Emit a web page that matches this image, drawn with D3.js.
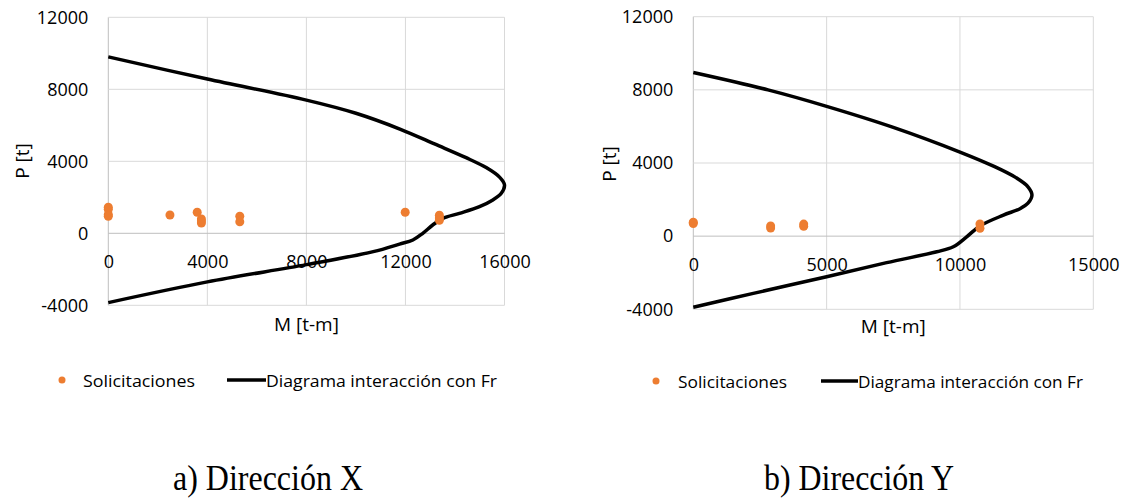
<!DOCTYPE html>
<html>
<head>
<meta charset="utf-8">
<script src="https://cdn.jsdelivr.net/npm/d3@7"></script>
<style>
  html, body { margin: 0; padding: 0; background: #ffffff; }
  svg { display: block; }
</style>
</head>
<body>
<svg id="chart" width="1125" height="500"></svg>
<script>
// ---- Data ----
const ticksY = [-4000, 0, 4000, 8000, 12000];
const ticksXA = [0, 4000, 8000, 12000, 16000];
const ticksXB = [0, 5000, 10000, 15000];

// a) Dirección X — solicitaciones
const solA_M = [0, 0, 0, 0, 2490, 3590, 3760, 3760, 3760, 5310, 5310, 11990, 13370, 13370, 13370];
const solA_P = [1450, 1330, 1050, 950, 1017, 1167, 800, 680, 570, 945, 640, 1167, 1000, 850, 720];
// a) Diagrama interacción con Fr
const diaA_M = [0, 4000, 8000, 10000, 11800, 13200, 14450, 15260, 15800, 16000, 15870, 15530, 14990, 14180, 13510, 13100, 12700, 12300, 11760, 10700, 8000, 4000, 0];
const diaA_P = [9800, 8570, 7400, 6670, 5780, 4950, 4200, 3650, 3120, 2690, 2220, 1850, 1480, 1110, 830, 460, 0, -370, -600, -1020, -1740, -2700, -3850];

// b) Dirección Y — solicitaciones
const solB_M = [0, 0, 2900, 2900, 4140, 4140, 10750, 10750];
const solB_P = [760, 690, 560, 440, 660, 540, 670, 430];
// b) Diagrama interacción con Fr
const diaB_M = [0, 2800, 5000, 7500, 10000, 11300, 12100, 12550, 12700, 12550, 12250, 11630, 10750, 10250, 9750, 9130, 7250, 5000, 2250, 0];
const diaB_P = [8950, 8000, 7100, 5950, 4600, 3800, 3200, 2700, 2250, 1800, 1500, 1150, 560, -40, -580, -855, -1450, -2220, -3130, -3890];

const legendLabels = ["Solicitaciones", "Diagrama interacción con Fr"];
const captions = ["a) Dirección X", "b) Dirección Y"];
const axisTitleX = "M [t-m]";
const axisTitleY = "P [t]";

// ---- Drawing ----
const svg = d3.select("#chart");
const FONT = "'Open Sans', 'Noto Sans', sans-serif";
const ORANGE = "#ED7D31";
const fmt = d => String(d);

function panel(cfg) {
  const x = d3.scaleLinear().domain(cfg.xDomain).range(cfg.xRange);
  const y = d3.scaleLinear().domain([-4000, 12000]).range(cfg.yRange);
  const g = svg.append("g");

  // vertical gridlines
  g.append("g").selectAll("line").data(cfg.xTicks).join("line")
    .attr("x1", d => x(d)).attr("x2", d => x(d))
    .attr("y1", y(12000)).attr("y2", y(-4000))
    .attr("stroke", d => d === 0 ? "#BFBFBF" : "#D9D9D9")
    .attr("stroke-width", 1);
  // horizontal gridlines
  g.append("g").selectAll("line").data(ticksY).join("line")
    .attr("x1", x(cfg.xDomain[0])).attr("x2", x(cfg.xDomain[1]))
    .attr("y1", d => y(d)).attr("y2", d => y(d))
    .attr("stroke", d => d === 0 ? "#BFBFBF" : "#D9D9D9")
    .attr("stroke-width", 1);

  // y tick labels via axis
  const ya = g.append("g")
    .attr("transform", `translate(${x(0)},0)`)
    .call(d3.axisLeft(y).tickValues(ticksY).tickSize(0).tickPadding(20).tickFormat(fmt));
  ya.select(".domain").remove();
  ya.selectAll("text").attr("font-family", FONT).attr("font-size", 18).attr("fill", "#000");

  // x tick labels via axis at P=0
  const xa = g.append("g")
    .attr("transform", `translate(0,${y(0)})`)
    .call(d3.axisBottom(x).tickValues(cfg.xTicks).tickSize(0).tickPadding(22).tickFormat(fmt));
  xa.select(".domain").remove();
  xa.selectAll("text").attr("font-family", FONT).attr("font-size", 18).attr("fill", "#000");

  // interaction diagram
  const pts = cfg.dM.map((m, i) => [m, cfg.dP[i]]);
  g.append("path")
    .datum(pts)
    .attr("fill", "none")
    .attr("stroke", "#000")
    .attr("stroke-width", 3.5)
    .attr("stroke-linejoin", "round")
    .attr("d", d3.line().x(d => x(d[0])).y(d => y(d[1])).curve(d3.curveCatmullRom.alpha(0.5)));

  // solicitaciones
  const sp = cfg.sM.map((m, i) => [m, cfg.sP[i]]);
  g.append("g").selectAll("circle").data(sp).join("circle")
    .attr("cx", d => x(d[0])).attr("cy", d => y(d[1]))
    .attr("r", 4.5).attr("fill", ORANGE);

  // axis titles
  g.append("text")
    .attr("x", (x(cfg.xDomain[0]) + x(cfg.xDomain[1])) / 2)
    .attr("y", cfg.xTitleY)
    .attr("text-anchor", "middle")
    .attr("font-family", FONT).attr("font-size", 19).attr("fill", "#000")
    .text(axisTitleX);
  g.append("text")
    .attr("transform", `translate(${cfg.yTitleX},${cfg.yTitleCY}) rotate(-90)`)
    .attr("text-anchor", "middle")
    .attr("dominant-baseline", "central")
    .attr("font-family", FONT).attr("font-size", 19).attr("fill", "#000")
    .text(axisTitleY);

  // legend
  const L = cfg.legend;
  g.append("circle").attr("cx", L.dotX).attr("cy", L.y).attr("r", 3.5).attr("fill", ORANGE);
  g.append("text").attr("x", L.t1X).attr("y", L.y).attr("dominant-baseline", "central")
    .attr("font-family", FONT).attr("font-size", 17).attr("fill", "#000")
    .attr("textLength", L.t1W).attr("lengthAdjust", "spacingAndGlyphs")
    .text(legendLabels[0]);
  g.append("line").attr("x1", L.l1).attr("x2", L.l2).attr("y1", L.y).attr("y2", L.y)
    .attr("stroke", "#000").attr("stroke-width", 3.5);
  g.append("text").attr("x", L.t2X).attr("y", L.y).attr("dominant-baseline", "central")
    .attr("font-family", FONT).attr("font-size", 17).attr("fill", "#000")
    .attr("textLength", L.t2W).attr("lengthAdjust", "spacingAndGlyphs")
    .text(legendLabels[1]);

  // caption
  g.append("text").attr("x", cfg.capX).attr("y", 490)
    .attr("font-family", "'Liberation Serif', 'Times New Roman', serif")
    .attr("font-size", 35).attr("fill", "#000")
    .attr("textLength", 190).attr("lengthAdjust", "spacingAndGlyphs")
    .text(cfg.caption);
}

panel({
  xDomain: [0, 16000], xRange: [108.3, 504.5], yRange: [305.3, 17.3],
  xTicks: ticksXA, sM: solA_M, sP: solA_P, dM: diaA_M, dP: diaA_P,
  xTitleY: 331, yTitleX: 22, yTitleCY: 161,
  legend: { y: 380, dotX: 62, t1X: 83, t1W: 112, l1: 227, l2: 266, t2X: 266, t2W: 231 },
  capX: 173, caption: captions[0]
});
panel({
  xDomain: [0, 15000], xRange: [693.3, 1093.3], yRange: [309.3, 16.7],
  xTicks: ticksXB, sM: solB_M, sP: solB_P, dM: diaB_M, dP: diaB_P,
  xTitleY: 333, yTitleX: 609, yTitleCY: 164,
  legend: { y: 381, dotX: 656, t1X: 678, t1W: 109, l1: 821, l2: 858, t2X: 858, t2W: 225 },
  capX: 764, caption: captions[1]
});
</script>
</body>
</html>
